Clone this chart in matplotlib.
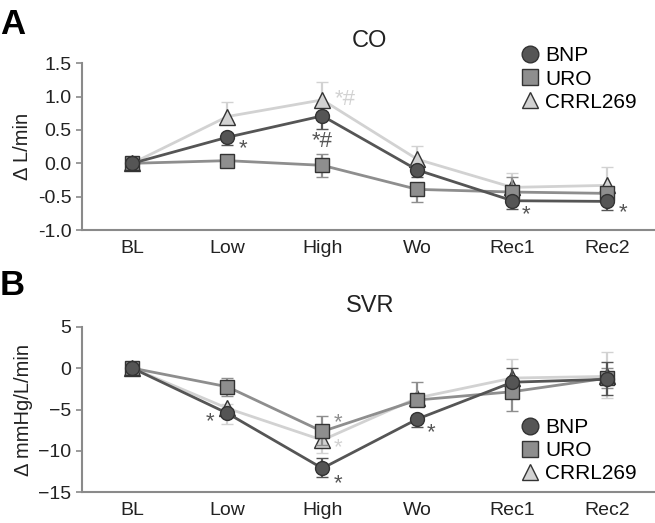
import numpy as np
import matplotlib
matplotlib.use("Agg")
import matplotlib.pyplot as plt

plt.rcParams['font.family'] = ['Liberation Sans', 'DejaVu Sans']

# categorias
cats = ['BL', 'Low', 'High', 'Wo', 'Rec1', 'Rec2']
series = ['BNP', 'URO', 'CRRL269']

# CO (L/min)
co_bnp = [0.0, 0.39, 0.71, -0.10, -0.56, -0.57]
co_uro = [0.0, 0.04, -0.03, -0.39, -0.43, -0.45]
co_crrl = [0.0, 0.70, 0.95, 0.06, -0.36, -0.33]
co_bnp_lo = [0.03, 0.11, 0.20, 0.10, 0.13, 0.13]
co_bnp_hi = [0.03, 0.06, 0.06, 0.06, 0.04, 0.04]
co_uro_lo = [0.03, 0.05, 0.17, 0.19, 0.10, 0.10]
co_uro_hi = [0.03, 0.05, 0.17, 0.05, 0.23, 0.10]
co_crrl_lo = [0.03, 0.05, 0.05, 0.05, 0.05, 0.05]
co_crrl_hi = [0.03, 0.22, 0.27, 0.20, 0.21, 0.27]

# SVR (mmHg/L/min)
svr_bnp = [0.0, -5.45, -12.1, -6.15, -1.7, -1.35]
svr_uro = [0.0, -2.25, -7.65, -3.85, -2.85, -1.2]
svr_crrl = [0.0, -4.85, -8.7, -3.6, -1.2, -1.0]
svr_bnp_lo = [0.4, 0.5, 1.1, 1.0, 0.5, 1.9]
svr_bnp_hi = [0.4, 0.5, 1.2, 0.5, 1.7, 2.1]
svr_uro_lo = [0.4, 1.1, 1.6, 0.5, 2.3, 1.2]
svr_uro_hi = [0.4, 1.1, 1.9, 2.2, 1.0, 1.2]
svr_crrl_lo = [0.4, 1.9, 1.5, 0.5, 0.5, 2.6]
svr_crrl_hi = [0.4, 0.5, 0.5, 0.5, 2.3, 2.9]

colores = {'BNP': '#555555', 'URO': '#8e8e8e', 'CRRL269': '#d2d2d2'}
marcas = {'BNP': 'o', 'URO': 's', 'CRRL269': '^'}
borde = '#333333'
eje = '#8a8a8a'

fig = plt.figure(figsize=(6.55, 5.23), dpi=100)
axA = fig.add_axes([0.125, 0.560, 0.875, 0.3193])
axB = fig.add_axes([0.125, 0.0587, 0.875, 0.3166])

x = np.arange(len(cats))


def panel(ax, datos, errores, ylim, yticks, ylabel):
    # dibujar de atras hacia adelante: CRRL, URO, BNP
    for i, s in enumerate(['CRRL269', 'URO', 'BNP']):
        y = datos[s]
        lo, hi = errores[s]
        ax.errorbar(x, y, yerr=[lo, hi], color=colores[s], lw=2,
                    elinewidth=1.6, capsize=4.5, capthick=1.6, zorder=2 + i,
                    marker=marcas[s], markersize=10 if s != 'CRRL269' else 11,
                    markerfacecolor=colores[s], markeredgecolor=borde,
                    markeredgewidth=1.0)
    ax.set_xlim(-0.53, 5.5)
    ax.set_ylim(*ylim)
    ax.set_yticks(yticks)
    ax.set_xticks(x)
    ax.set_xticklabels(cats)
    for sp in ['top', 'right']:
        ax.spines[sp].set_visible(False)
    for sp in ['left', 'bottom']:
        ax.spines[sp].set_color(eje)
        ax.spines[sp].set_linewidth(1.5)
    ax.tick_params(axis='y', colors=eje, labelcolor='#222222', length=4,
                   width=1.2, labelsize=14)
    ax.tick_params(axis='x', length=0, labelsize=14, labelcolor='#222222', pad=7)
    ax.set_ylabel(ylabel, fontsize=14.5, color='#222222', labelpad=4)
    # leyenda
    handles = [plt.Line2D([], [], ls='none', marker=marcas[s], markersize=12,
                          markerfacecolor=colores[s], markeredgecolor=borde,
                          markeredgewidth=1.0) for s in series]
    return handles


hA = panel(axA, {'BNP': co_bnp, 'URO': co_uro, 'CRRL269': co_crrl},
           {'BNP': (co_bnp_lo, co_bnp_hi), 'URO': (co_uro_lo, co_uro_hi),
            'CRRL269': (co_crrl_lo, co_crrl_hi)},
           (-1.0, 1.5), [-1.0, -0.5, 0.0, 0.5, 1.0, 1.5], '\u0394 L/min')
axA.set_yticklabels(['-1.0', '-0.5', '0.0', '0.5', '1.0', '1.5'])
axA.text(2.5, 1.66, 'CO', fontsize=17, ha='center', va='bottom', color='#222222')
axA.legend(hA, series, loc='upper left', bbox_to_anchor=(0.75, 1.15),
           frameon=False, fontsize=15, handletextpad=0.2, labelspacing=0.2,
           handlelength=1.0, borderaxespad=0)

hB = panel(axB, {'BNP': svr_bnp, 'URO': svr_uro, 'CRRL269': svr_crrl},
           {'BNP': (svr_bnp_lo, svr_bnp_hi), 'URO': (svr_uro_lo, svr_uro_hi),
            'CRRL269': (svr_crrl_lo, svr_crrl_hi)},
           (-15, 5), [-15, -10, -5, 0, 5], '\u0394 mmHg/L/min')
axB.text(2.5, 6.2, 'SVR', fontsize=17, ha='center', va='bottom', color='#222222')
axB.legend(hB, series, loc='upper left', bbox_to_anchor=(0.75, 0.5),
           frameon=False, fontsize=15, handletextpad=0.2, labelspacing=0.2,
           handlelength=1.0, borderaxespad=0)

# asteriscos
oscuro = colores['BNP']
medio = colores['URO']
claro = colores['CRRL269']
estA = [(1.17, 0.22, '*', oscuro), (2.0, 0.33, '*#', oscuro),
        (2.24, 0.95, '*#', claro), (4.14, -0.77, '*', oscuro),
        (5.16, -0.74, '*', oscuro)]
for xx, yy, t, c in estA:
    axA.text(xx, yy, t, fontsize=16, ha='center', va='center', color=c, zorder=10)
estB = [(0.82, -6.5, '*', oscuro), (2.16, -6.6, '*', medio),
        (2.16, -9.6, '*', claro), (2.16, -13.9, '*', oscuro),
        (3.14, -7.8, '*', oscuro)]
for xx, yy, t, c in estB:
    axB.text(xx, yy, t, fontsize=16, ha='center', va='center', color=c, zorder=10)

fig.text(0.0, 0.985, 'A', fontsize=25, fontweight='bold', va='top', ha='left')
fig.text(0.0, 0.485, 'B', fontsize=25, fontweight='bold', va='top', ha='left')

fig.savefig('out.png', dpi=100)
